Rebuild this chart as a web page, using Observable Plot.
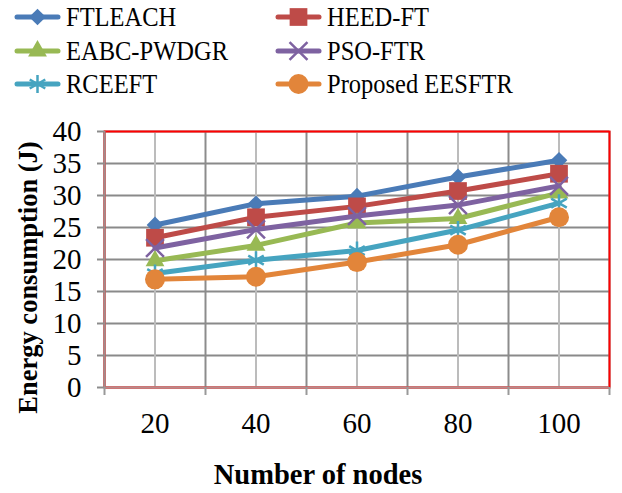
<!DOCTYPE html>
<html>
<head>
<meta charset="utf-8">
<script src="https://cdn.jsdelivr.net/npm/d3@7"></script>
<script src="https://cdn.jsdelivr.net/npm/@observablehq/plot@0.6"></script>
<style>
  html, body { margin: 0; padding: 0; background: #fff; }
  #chart { width: 622px; height: 493px; position: relative; font-family: "Liberation Serif", "Times New Roman", serif; }
  #legend { position: relative; width: 622px; height: 104px; }
  .item { position: absolute; display: flex; align-items: center; height: 30px; font-size: 24.5px; color: #000; white-space: nowrap; font-family: "Liberation Serif", serif; }
  .item span { display: inline-block; transform: scaleY(1.15); }
  .item svg { display: block; margin-right: 5px; }
  #plot svg { display: block; }
  #plot svg text { font-family: "Liberation Serif", serif; }
</style>
</head>
<body>
<div id="chart">
  <div id="legend"></div>
  <div id="plot"></div>
</div>
<script>
// Number of nodes in the network (x categories)
const nodes = [20, 40, 60, 80, 100];
const yTicks = [0, 5, 10, 15, 20, 25, 30, 35, 40];

// Energy consumption (J) per protocol
const seriesNames = ["FTLEACH", "HEED-FT", "EABC-PWDGR", "PSO-FTR", "RCEEFT", "Proposed EESFTR"];
const ftleach  = [25.4, 28.7, 29.9, 32.9, 35.5];
const heedFt   = [23.4, 26.6, 28.3, 30.7, 33.4];
const eabc     = [19.8, 22.2, 25.7, 26.4, 30.4];
const psoFtr   = [21.8, 24.7, 26.8, 28.5, 31.5];
const rceeft   = [17.8, 19.9, 21.4, 24.6, 28.8];
const eesftr   = [16.9, 17.3, 19.6, 22.3, 26.6];
const values = [ftleach, heedFt, eabc, psoFtr, rceeft, eesftr];

// Series styling
const colors  = ["#4A7BB7", "#BE4B48", "#98B954", "#7E62A1", "#46A4C0", "#E2853A"];
const symbols = ["diamond2", "square", "triangle", "times", "asterisk", "circle"];
const radii   = [7.5, 10, 7, 8.2, 8.5, 10];
const hollow  = [false, false, false, true, true, false];

const rows = seriesNames.map((name, i) => nodes.map((n, j) => ({series: name, nodes: n, energy: values[i][j]})));

// Category slots: each node count sits in the middle of its own slot
const step = nodes[1] - nodes[0];
const half = step / 2;
const bounds = [nodes[0] - half, ...nodes.map(n => n + half)];

// Per-series line followed by its markers, drawn in legend order
const seriesMarks = rows.flatMap((data, i) => [
  Plot.line(data, {x: "nodes", y: "energy", stroke: colors[i], strokeWidth: 5, strokeLinejoin: "round", strokeLinecap: "round"}),
  Plot.dot(data, hollow[i]
    ? {x: "nodes", y: "energy", symbol: () => symbols[i], r: radii[i], stroke: colors[i], strokeWidth: 2.5, fill: "none"}
    : {x: "nodes", y: "energy", symbol: () => symbols[i], r: radii[i], fill: colors[i], stroke: "none"})
]);

const chart = Plot.plot({
  width: 622,
  height: 389,
  marginLeft: 104,
  marginRight: 13,
  marginTop: 27,
  marginBottom: 106,
  style: {fontFamily: "'Liberation Serif', serif", fontSize: "29px", color: "#000", background: "#fff", overflow: "visible"},
  x: {domain: [bounds[0], bounds[bounds.length - 1]], axis: null},
  y: {domain: [0, 40], axis: null},
  symbol: {type: "identity"},
  marks: [
    Plot.gridY({ticks: yTicks, stroke: "#8a8a8a", strokeOpacity: 1, strokeWidth: 2}),
    Plot.gridX({ticks: nodes, stroke: "#bcbcbc", strokeOpacity: 1, strokeWidth: 2}),
    Plot.gridX({ticks: bounds, stroke: "#8c8c8c", strokeOpacity: 1, strokeWidth: 2}),
    Plot.frame({stroke: "#ff0000", strokeWidth: 2}),
    Plot.ruleX([bounds[0]], {stroke: "#a08c8c", strokeWidth: 2}),
    Plot.ruleY([0], {stroke: "#b88a8a", strokeWidth: 2}),
    Plot.axisY({ticks: yTicks, tickSize: 7, tickPadding: 16, stroke: "#8c8c8c", strokeWidth: 2, label: null}),
    Plot.axisX({ticks: bounds, tickSize: 8, tickFormat: () => "", stroke: "#999", strokeWidth: 2, label: null}),
    Plot.axisX({ticks: nodes, tickSize: 0, tickPadding: 25, label: null}),
    Plot.text(["Energy consumption (J)"], {frameAnchor: "left", rotate: -90, dx: -76, dy: 18, fontWeight: "bold", fontSize: 26.5, textAnchor: "middle", fill: "#000"}),
    Plot.text(["Number of nodes"], {frameAnchor: "bottom", dx: -39, dy: 87, fontWeight: "bold", fontSize: 28.5, textAnchor: "middle", lineAnchor: "middle", fill: "#000"}),
    ...seriesMarks
  ]
});
document.getElementById("plot").appendChild(chart);

// Legend: two columns, three rows, line swatch with centered marker
const legend = d3.select("#legend");
const colX = [14, 275];
const rowY = [17, 51, 84];
const symMap = {diamond2: d3.symbolDiamond2, square: d3.symbolSquare, triangle: d3.symbolTriangle, times: d3.symbolTimes, asterisk: d3.symbolAsterisk, circle: d3.symbolCircle};
seriesNames.forEach((name, i) => {
  const col = i % 2, row = Math.floor(i / 2);
  const item = legend.append("div").attr("class", "item")
    .style("left", colX[col] + "px")
    .style("top", (rowY[row] - 15) + "px");
  const sw = item.append("svg").attr("width", 47).attr("height", 30);
  sw.append("line").attr("x1", 3).attr("x2", 44).attr("y1", 15).attr("y2", 15)
    .attr("stroke", colors[i]).attr("stroke-width", 5).attr("stroke-linecap", "round");
  const path = d3.symbol(symMap[symbols[i]], Math.PI * radii[i] * radii[i])();
  const p = sw.append("path").attr("d", path).attr("transform", "translate(23.5,15)");
  if (hollow[i]) p.attr("fill", "none").attr("stroke", colors[i]).attr("stroke-width", 2.5);
  else p.attr("fill", colors[i]);
  item.append("span").text(name);
});
</script>
</body>
</html>
